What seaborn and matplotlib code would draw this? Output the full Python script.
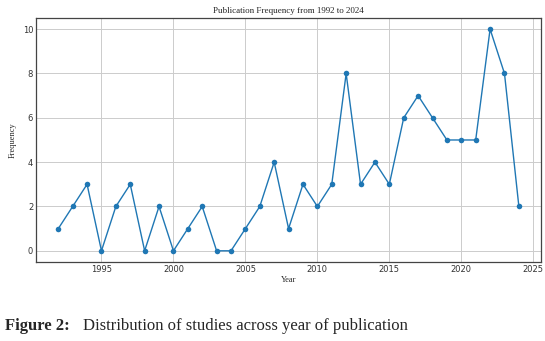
import matplotlib
matplotlib.use("Agg")
import matplotlib.pyplot as plt
import pandas as pd
import seaborn as sns

# Date citite din figura de referință
ani = list(range(1992, 2025))
frecvente = [1, 2, 3, 0, 2, 3, 0, 2, 0, 1, 2, 0, 0, 1, 2, 4, 1, 3, 2, 3,
             8, 3, 4, 3, 6, 7, 6, 5, 5, 5, 10, 8, 2]
titlu = "Publication Frequency from 1992 to 2024"
legenda = "Distribution of studies across year of publication"

df = pd.DataFrame({"Year": ani, "Frequency": frecvente})

sns.set_theme(style="whitegrid")
plt.rcParams["font.family"] = ["DejaVu Sans"]

fig = plt.figure(figsize=(5.45, 3.41), dpi=100)
ax = fig.add_axes([0.066, 0.232, 0.927, 0.715])

sns.lineplot(data=df, x="Year", y="Frequency", marker="o", color="#1f77b4",
             linewidth=1.0, markersize=4, markeredgewidth=0, ax=ax)

ax.set_title(titlu, fontsize=6.5, family="Liberation Serif", pad=4)
ax.set_xlabel("Year", fontsize=6, family="Liberation Serif", labelpad=2)
ax.set_ylabel("Frequency", fontsize=6, family="Liberation Serif", labelpad=4)
ax.tick_params(labelsize=6, pad=2, length=0, labelcolor="#333333")
ax.set_xticks([1995, 2000, 2005, 2010, 2015, 2020, 2025])
ax.set_yticks([0, 2, 4, 6, 8, 10])
ax.set_xlim(1990.45, 2025.55)
ax.set_ylim(-0.5, 10.5)
ax.grid(color="#cccccc", linewidth=0.7)
for s in ax.spines.values():
    s.set_color("#444444")
    s.set_linewidth(0.9)

fig.text(0.009, 0.033, "Figure 2:", fontsize=12, family="Liberation Serif",
         weight="bold")
fig.text(0.152, 0.033, legenda, fontsize=12, family="Liberation Serif")

fig.savefig("out.png", dpi=100)
